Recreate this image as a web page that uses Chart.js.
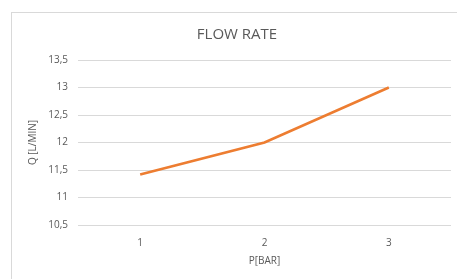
<!DOCTYPE html>
<html lang="en">
<head>
    <meta charset="UTF-8">
    <script src="https://cdn.jsdelivr.net/npm/chart.js"></script>
    <title>Flow rate</title>
    <style>
        body { margin: 0; background: #fff; overflow: hidden; }
        #box { position: absolute; left: 11px; top: 12px; width: 460px; height: 280px; border: 1px solid #d9d9d9; background: #fff; }
    </style>
</head>
<body>
    <div id="box">
        <canvas id="flow" width="460" height="280"></canvas>
    </div>
<script>
    const categories = ['1', '2', '3'];
    const flowValues = [11.42, 12.0, 13.0];
    const yMin = 10.5;
    const yMax = 13.5;
    const yStep = 0.5;

    const ctx = document.getElementById('flow').getContext('2d');
    new Chart(ctx, {
        type: 'line',
        data: {
            labels: categories,
            datasets: [{
                label: 'Q',
                data: flowValues,
                borderColor: '#ED7D31',
                borderWidth: 2.6,
                pointRadius: 0,
                tension: 0,
                fill: false
            }]
        },
        options: {
            responsive: false,
            animation: false,
            layout: { padding: { left: 11, right: 21, top: 13, bottom: 22 } },
            plugins: {
                legend: { display: false },
                tooltip: { enabled: false },
                title: {
                    display: true,
                    text: 'FLOW RATE',
                    color: '#595959',
                    font: { family: 'Open Sans', size: 15, weight: 'normal' },
                    padding: { top: 0, bottom: 16 }
                }
            },
            scales: {
                x: {
                    offset: true,
                    grid: { display: false },
                    border: { display: false },
                    ticks: { color: '#595959', font: { family: 'Open Sans', size: 10 }, padding: 4 },
                    title: {
                        display: true,
                        text: 'P[BAR]',
                        color: '#595959',
                        font: { family: 'Open Sans', size: 10 },
                        padding: { top: 2 }
                    }
                },
                y: {
                    min: yMin,
                    max: yMax,
                    grid: { color: '#d9d9d9', drawTicks: false },
                    border: { display: false },
                    ticks: {
                        stepSize: yStep,
                        color: '#595959',
                        font: { family: 'Open Sans', size: 10 },
                        padding: 10,
                        callback: v => v.toString().replace('.', ',')
                    },
                    title: {
                        display: true,
                        text: 'Q [L/MIN]',
                        color: '#595959',
                        font: { family: 'Open Sans', size: 10 },
                        padding: { bottom: 0 }
                    },
                    afterFit: scale => { scale.width = 55; }
                }
            }
        }
    });
</script>
</body>
</html>
